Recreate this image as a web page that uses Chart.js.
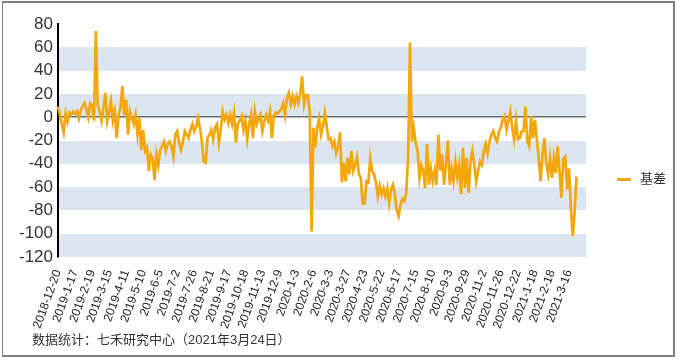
<!DOCTYPE html>
<html>
<head>
<meta charset="utf-8">
<script src="https://cdn.jsdelivr.net/npm/chart.js@4"></script>
<style>
  body { margin: 0; background: #fff; }
  #wrap { position: relative; width: 679px; height: 360px; font-family: "Liberation Sans", Arial, "Noto Sans CJK SC", sans-serif; color: #333; }
  #frame { position: absolute; left: 2px; top: 1px; width: 670px; height: 352px; border: 2px solid #7f7f7f; border-left-width: 1px; pointer-events: none; }
  #legend { position: absolute; left: 617px; top: 171px; font-size: 13px; line-height: 16px; }
  #legend .swatch { display: inline-block; width: 14px; height: 3px; background: #f2a80c; vertical-align: middle; margin-right: 9px; }
  #footer { position: absolute; left: 32px; top: 332px; font-size: 13px; line-height: 16px; }
</style>
</head>
<body>
<div id="wrap">
  <canvas id="basis-chart" width="679" height="360"></canvas>
  <div id="frame"></div>
  <div id="legend"><span class="swatch"></span>基差</div>
  <div id="footer">数据统计：七禾研究中心（2021年3月24日）</div>
</div>
<script>
// tick dates shown on the x axis (one every 9 points)
const tickDates = [
  "2018-12-20", "2019-1-17", "2019-2-19", "2019-3-15", "2019-4-11", "2019-5-10",
  "2019-6-5", "2019-7-2", "2019-7-26", "2019-8-21", "2019-9-17", "2019-10-18",
  "2019-11-13", "2019-12-9", "2020-1-3", "2020-2-6", "2020-3-3", "2020-3-27",
  "2020-4-23", "2020-5-22", "2020-6-17", "2020-7-15", "2020-8-10", "2020-9-3",
  "2020-9-29", "2020-11-2", "2020-11-26", "2020-12-22", "2021-1-18", "2021-2-18",
  "2021-3-16"
];
const pointsPerTick = 9;
const categoryCount = 280;

// 基差 (every second trading day)
const basis = [
  9, 2, -6, -13, 3, -4, 4, 2, 5, 3,
  5, -1, 6, 9, 12, 7, 0, 12, 10, -3,
  74, 10, 5, -3, 8, 21, -3, 5, 14, -3,
  5, -18, 2, 8, 27, 2, 15, -15, 5, -1,
  -6, 2, -15, -1, -28, -11, -29, -26, -46, -32,
  -35, -54, -32, -41, -28, -25, -21, -29, -23, -21,
  -25, -34, -15, -12, -22, -28, -21, -12, -15, -18,
  -11, -6, -12, -8, -1, -9, -21, -38, -39, -18,
  -15, -11, -19, -9, -6, -22, -11, 5, -2, 2,
  -5, 2, -6, 4, -22, -6, -3, 1, -11, -3,
  -19, -6, 2, -18, 5, -6, -2, 2, -12, -4,
  2, -3, 5, -18, 1, 4, 3, 5, 7, 12,
  2, 17, 21, 11, 18, 11, 18, 12, 20, 35,
  11, 19, 19, 5, -98, -9, -26, -9, -1, -15,
  -8, 4, -8, -19, -18, -25, -21, -31, -26, -13,
  -56, -39, -55, -35, -49, -29, -46, -41, -34, -49,
  -52, -74, -74, -55, -56, -35, -46, -49, -56, -68,
  -59, -66, -61, -68, -61, -74, -62, -58, -66, -80,
  -85, -75, -70, -72, -65, -35, 64, -21, -9, -22,
  -29, -52, -41, -46, -61, -23, -58, -44, -55, -46,
  -58, -15, -46, -32, -58, -41, -20, -58, -44, -55,
  -38, -52, -41, -66, -26, -61, -35, -65, -38, -29,
  -41, -55, -46, -38, -41, -29, -23, -31, -21, -15,
  -12, -18, -21, -12, -9, -2, 1, -11, -3, 5,
  -9, -19, -3, -19, -18, -12, -12, 9, -21, -25,
  1, -18, -2, -19, -35, -55, -32, -18, -40, -49,
  -35, -52, -35, -48, -25, -46, -69, -36, -34, -62,
  -44, -78, -102, -81, -51
];

const yMin = -120;
const yMax = 80;
const yStep = 20;

const labels = Array.from({ length: categoryCount }, (_, i) =>
  i % pointsPerTick === 0 && tickDates[i / pointsPerTick] ? tickDates[i / pointsPerTick] : ""
);

// alternating light blue bands behind the plot
const bandPlugin = {
  id: "bands",
  beforeDraw(chart) {
    const { ctx, chartArea, scales: { y } } = chart;
    ctx.save();
    ctx.fillStyle = "#dce6f0";
    for (let v = yMin; v < yMax; v += yStep * 2) {
      const top = Math.round(y.getPixelForValue(v + yStep));
      const bottom = Math.round(y.getPixelForValue(v));
      ctx.fillRect(chartArea.left, top, chartArea.right - chartArea.left, bottom - top);
    }
    ctx.restore();
  }
};

new Chart(document.getElementById("basis-chart"), {
  type: "line",
  data: {
    labels,
    datasets: [{
      label: "基差",
      data: basis,
      borderColor: "#f2a80c",
      borderWidth: 2.7,
      pointRadius: 0,
      tension: 0
    }]
  },
  options: {
    responsive: false,
    animation: false,
    layout: { padding: { left: 0, top: 24, right: 93, bottom: 0 } },
    plugins: { legend: { display: false }, tooltip: { enabled: false } },
    scales: {
      x: {
        offset: false,
        grid: { display: false },
        border: { display: false },
        ticks: {
          autoSkip: false,
          minRotation: 70,
          maxRotation: 70,
          padding: 3,
          color: "#222",
          font: { family: "Liberation Sans", size: 12 }
        },
        afterFit: s => { s.height = 103; }
      },
      y: {
        min: yMin,
        max: yMax,
        grid: {
          drawTicks: false,
          color: c => (c.tick.value === 0 ? "#6b6b6b" : "transparent"),
          lineWidth: 1.5
        },
        border: { color: "#000", width: 2 },
        ticks: {
          stepSize: yStep,
          autoSkip: false,
          padding: 5,
          color: "#333",
          font: { family: "Liberation Sans", size: 17 }
        },
        afterFit: s => { s.width = 58; }
      }
    }
  },
  plugins: [bandPlugin]
});
</script>
</body>
</html>
